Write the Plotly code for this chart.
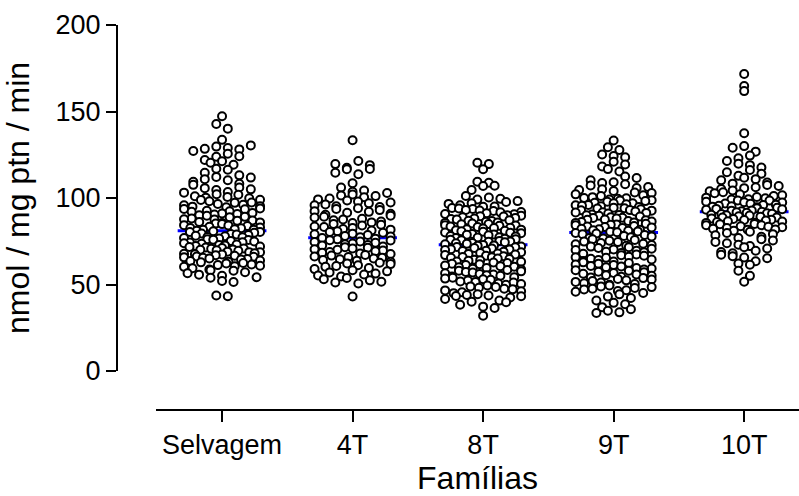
import numpy as np
import plotly.graph_objects as go

categories = ["Selvagem", "4T", "8T", "9T", "10T"]

selvagem = [147.3, 142.8, 140.1, 133.6, 130.4, 129.7, 128.9, 128.4, 128.1, 127.2, 125.6, 124.1, 123.8, 122.0,
            121.3, 120.4, 119.2, 116.9, 116.3, 114.6, 113.1, 112.2, 111.8, 110.9, 110.3, 109.4, 108.2, 107.6,
            106.1, 105.7, 105.0, 104.6, 103.5, 103.1, 102.2, 101.9, 101.0, 100.6, 100.2, 99.8, 99.0, 98.9, 98.1,
            97.4, 97.2, 96.5, 96.1, 95.8, 95.3, 95.0, 94.6, 94.0, 93.7, 93.5, 92.6, 92.3, 92.1, 91.4, 91.0, 90.7,
            90.5, 90.0, 89.7, 89.1, 88.9, 88.2, 87.7, 87.6, 87.0, 86.8, 86.1, 85.9, 85.5, 85.2, 84.9, 84.3, 84.1,
            83.8, 83.4, 83.0, 82.7, 82.5, 82.0, 81.7, 81.6, 81.1, 80.8, 80.4, 80.3, 79.9, 79.5, 79.2, 78.9, 78.6,
            78.2, 77.9, 77.4, 77.3, 76.9, 76.6, 76.1, 75.8, 75.7, 75.2, 74.9, 74.4, 74.3, 73.8, 73.5, 73.1, 72.9,
            72.6, 72.2, 72.0, 71.7, 71.4, 71.1, 70.8, 70.6, 70.3, 70.1, 69.8, 69.5, 69.0, 68.7, 68.6, 68.1, 67.8,
            67.5, 67.4, 66.9, 66.6, 66.2, 66.0, 65.7, 65.4, 65.1, 64.7, 64.5, 63.9, 63.6, 63.2, 62.8, 62.4, 62.2,
            61.6, 61.2, 60.8, 60.6, 60.2, 59.4, 58.6, 58.3, 57.9, 57.1, 56.5, 55.7, 55.1, 54.2, 53.9, 52.0, 51.4,
            43.6, 43.2]

t4 = [133.4, 121.4, 119.6, 119.0, 117.5, 116.8, 116.6, 114.6, 113.7, 108.5, 106.0, 104.3, 103.6, 102.9, 102.0,
      101.5, 101.1, 100.4, 99.7, 99.2, 98.6, 98.0, 97.4, 96.9, 96.3, 95.8, 95.2, 94.8, 94.1, 93.6, 93.0, 92.4,
      92.0, 91.5, 90.9, 90.3, 89.8, 89.2, 88.7, 88.0, 87.6, 87.1, 86.4, 85.9, 85.5, 85.0, 84.6, 84.1, 83.5, 83.2,
      82.6, 82.1, 81.7, 81.2, 80.8, 80.3, 79.9, 79.4, 79.0, 78.6, 78.1, 77.8, 77.3, 76.9, 76.5, 76.1, 75.6, 75.4,
      74.9, 74.6, 74.1, 73.7, 73.2, 72.8, 72.5, 72.0, 71.6, 71.3, 70.8, 70.4, 70.1, 69.7, 69.2, 68.8, 68.3, 67.9,
      67.6, 67.1, 66.7, 66.2, 65.9, 65.5, 65.0, 64.6, 64.1, 63.7, 63.1, 62.6, 62.2, 61.8, 61.1, 60.7, 60.2, 59.5,
      58.9, 58.2, 57.6, 57.0, 56.3, 55.8, 55.2, 54.6, 53.8, 53.1, 52.4, 51.6, 51.2, 50.6, 43.1]

t8 = [120.4, 119.6, 116.6, 109.4, 108.8, 107.1, 106.9, 104.6, 101.2, 100.3, 99.5, 99.1, 98.2, 97.7, 97.0, 96.6,
      95.8, 95.1, 94.9, 94.2, 93.9, 93.6, 93.1, 92.8, 92.5, 91.9, 91.7, 91.2, 90.8, 90.6, 90.1, 89.8, 89.4, 89.3,
      88.9, 88.5, 88.1, 87.9, 87.6, 87.2, 86.8, 86.7, 86.2, 85.9, 85.6, 85.3, 85.0, 84.8, 84.3, 84.1, 83.9, 83.5,
      83.2, 82.8, 82.6, 82.4, 81.9, 81.7, 81.4, 81.0, 80.8, 80.5, 80.1, 79.9, 79.6, 79.2, 78.9, 78.7, 78.4, 78.0,
      77.8, 77.3, 77.1, 76.9, 76.5, 76.2, 75.9, 75.6, 75.2, 74.9, 74.7, 74.4, 74.0, 73.8, 73.5, 73.3, 72.9, 72.6,
      72.4, 72.0, 71.7, 71.5, 71.1, 70.8, 70.4, 70.2, 69.9, 69.5, 69.3, 68.9, 68.6, 68.2, 67.9, 67.7, 67.3, 67.0,
      66.6, 66.3, 65.9, 65.8, 65.4, 65.0, 64.7, 64.3, 64.0, 63.8, 63.3, 63.1, 62.7, 62.4, 62.0, 61.7, 61.2, 61.0,
      60.6, 60.3, 59.9, 59.6, 59.1, 58.7, 58.4, 58.0, 57.6, 57.2, 56.9, 56.5, 56.1, 55.8, 55.3, 55.0, 54.6, 54.2,
      53.9, 53.4, 53.0, 52.7, 52.3, 51.8, 51.5, 51.1, 50.6, 50.3, 49.8, 49.4, 48.9, 48.6, 48.1, 47.5, 47.2, 46.6,
      46.1, 45.5, 45.0, 44.4, 43.9, 43.6, 43.4, 43.2, 42.5, 41.6, 40.7, 40.1, 39.8, 38.3, 37.2, 36.4, 32.0]

t9 = [133.2, 129.3, 127.7, 125.1, 124.3, 123.6, 121.0, 119.4, 118.2, 116.7, 115.3, 112.4, 111.6, 110.2, 109.1,
      108.6, 107.9, 107.2, 106.3, 105.8, 105.1, 104.6, 104.0, 103.2, 102.9, 102.1, 101.6, 101.2, 100.5, 100.0,
      99.8, 99.6, 99.1, 98.7, 98.5, 98.2, 97.8, 97.3, 97.0, 96.9, 96.4, 96.0, 95.8, 95.5, 95.2, 94.8, 94.4, 94.1,
      93.9, 93.5, 93.0, 92.9, 92.7, 92.2, 91.8, 91.6, 91.4, 91.0, 90.5, 90.2, 90.0, 89.7, 89.3, 88.9, 88.6, 88.4,
      88.1, 87.6, 87.4, 87.2, 86.7, 86.4, 86.1, 85.9, 85.6, 85.1, 84.7, 84.5, 84.3, 83.8, 83.5, 83.2, 83.0, 82.6,
      82.2, 81.9, 81.7, 81.4, 81.0, 80.7, 80.5, 80.2, 79.8, 79.5, 79.0, 78.6, 78.1, 77.8, 77.3, 76.9, 76.6, 76.1,
      75.7, 75.3, 74.8, 74.5, 74.0, 73.6, 73.3, 72.8, 72.4, 71.9, 71.6, 71.1, 70.7, 70.3, 69.9, 69.5, 69.0, 68.7,
      68.2, 67.8, 67.4, 66.9, 66.6, 66.1, 65.7, 65.4, 64.9, 64.5, 64.1, 63.6, 63.3, 62.8, 62.4, 62.0, 61.5, 61.2,
      60.7, 60.4, 59.9, 59.5, 59.2, 58.7, 58.3, 57.9, 57.4, 57.1, 56.6, 56.2, 55.8, 55.3, 55.0, 54.5, 54.1, 53.7,
      53.2, 52.9, 52.4, 52.0, 51.5, 51.2, 50.7, 50.3, 49.8, 49.4, 48.9, 48.5, 48.0, 47.6, 47.1, 46.7, 46.2, 45.8,
      45.1, 44.3, 43.0, 42.2, 40.8, 39.4, 38.6, 36.9, 35.7, 34.8, 33.9, 33.5]

t10 = [171.7, 164.7, 161.8, 137.4, 130.0, 129.0, 126.8, 124.5, 123.0, 121.4, 119.8, 119.0, 117.6, 116.2, 114.9,
       114.0, 112.8, 111.7, 110.9, 110.2, 109.0, 108.3, 107.5, 106.9, 106.2, 105.7, 105.2, 104.4, 103.9, 103.3,
       102.8, 102.2, 101.6, 101.1, 100.6, 100.2, 99.8, 99.3, 99.1, 98.6, 98.5, 97.9, 97.5, 97.4, 96.8, 96.7, 96.1,
       95.9, 95.5, 95.2, 95.0, 94.6, 94.3, 94.1, 93.7, 93.5, 93.2, 92.8, 92.6, 92.3, 92.0, 91.8, 91.5, 91.2, 90.9,
       90.8, 90.3, 90.0, 89.9, 89.4, 89.1, 88.8, 88.7, 88.2, 87.9, 87.5, 87.3, 87.0, 86.6, 86.4, 86.1, 85.7, 85.6,
       85.0, 84.8, 84.3, 84.2, 83.7, 83.4, 83.1, 82.7, 82.2, 81.8, 81.6, 81.1, 80.5, 79.8, 79.1, 78.5, 77.6, 76.9,
       76.2, 75.4, 74.6, 73.8, 73.0, 72.2, 71.6, 70.8, 69.5, 68.8, 68.0, 67.2, 66.4, 65.6, 65.2, 63.4, 62.2, 61.4,
       57.9, 55.0, 51.6]

groups = [selvagem, t4, t8, t9, t10]
medians = [81, 77, 73, 80, 92]

# pixel scales used only to lay out the dot rows
PX_PER_UNIT_Y = 346.0 / 200.0
PX_PER_CAT = 130.5


def dot_offsets(vals, bin_h=4.5, spacing=11.5, max_w=76.0):
    """Prism-like dot plot: values grouped into rows of bin_h units; each row
    is spread symmetrically, squeezed to max_w pixels when crowded.
    Order inside a row follows a deterministic hash of the value (golden ratio),
    imitating data-entry order."""
    vals = np.asarray(vals, dtype=float)
    bins = np.floor(vals / bin_h).astype(int)
    offs = np.zeros(len(vals))
    for b in np.unique(bins):
        idx = np.where(bins == b)[0]
        key = np.mod(np.round(vals[idx] * 10) * 0.6180339887, 1.0)
        idx = idx[np.argsort(key, kind="stable")]
        n = len(idx)
        s = spacing if n <= 1 else min(spacing, max_w / (n - 1))
        for j, ii in enumerate(idx):
            offs[ii] = (j - (n - 1) / 2.0) * s
    return offs / PX_PER_CAT


fig = go.Figure()
half = 0.34
for i, m in enumerate(medians):
    fig.add_trace(go.Scatter(x=[i - half, i + half], y=[m, m], mode="lines",
                             line=dict(color="rgb(0,0,255)", width=3), hoverinfo="skip"))

for i, vals in enumerate(groups):
    offs = dot_offsets(vals)
    fig.add_trace(go.Scatter(
        x=i + offs, y=vals, mode="markers",
        marker=dict(symbol="circle", size=8, color="white",
                    line=dict(color="black", width=2)),
        name=categories[i]))

font_family = "Arial, Liberation Sans, sans-serif"
fig.update_layout(
    width=799, height=496,
    margin=dict(l=117, r=0, t=25, b=86),
    paper_bgcolor="white", plot_bgcolor="white",
    showlegend=False,
    font=dict(family=font_family, color="black", size=27),
    xaxis=dict(domain=[39 / 682, 1], range=[-0.506, 4.42], anchor="free", position=0,
               tickmode="array", tickvals=list(range(len(categories))), ticktext=categories,
               showline=True, linecolor="black", linewidth=2,
               ticks="outside", ticklen=11, tickwidth=2, tickcolor="black",
               showgrid=False, zeroline=False,
               tickfont=dict(size=27),
               title=dict(text="Famílias", font=dict(size=32), standoff=13)),
    yaxis=dict(domain=[39 / 385, 1], anchor="free", position=0, range=[0, 200],
               tickmode="array", tickvals=[0, 50, 100, 150, 200],
               showline=True, linecolor="black", linewidth=2,
               ticks="outside", ticklen=10, tickwidth=2, tickcolor="black",
               showgrid=False, zeroline=False,
               tickfont=dict(size=27),
               title=dict(text="nmol / mg ptn / min", font=dict(size=32), standoff=17)),
)

fig.write_html("out.html")
